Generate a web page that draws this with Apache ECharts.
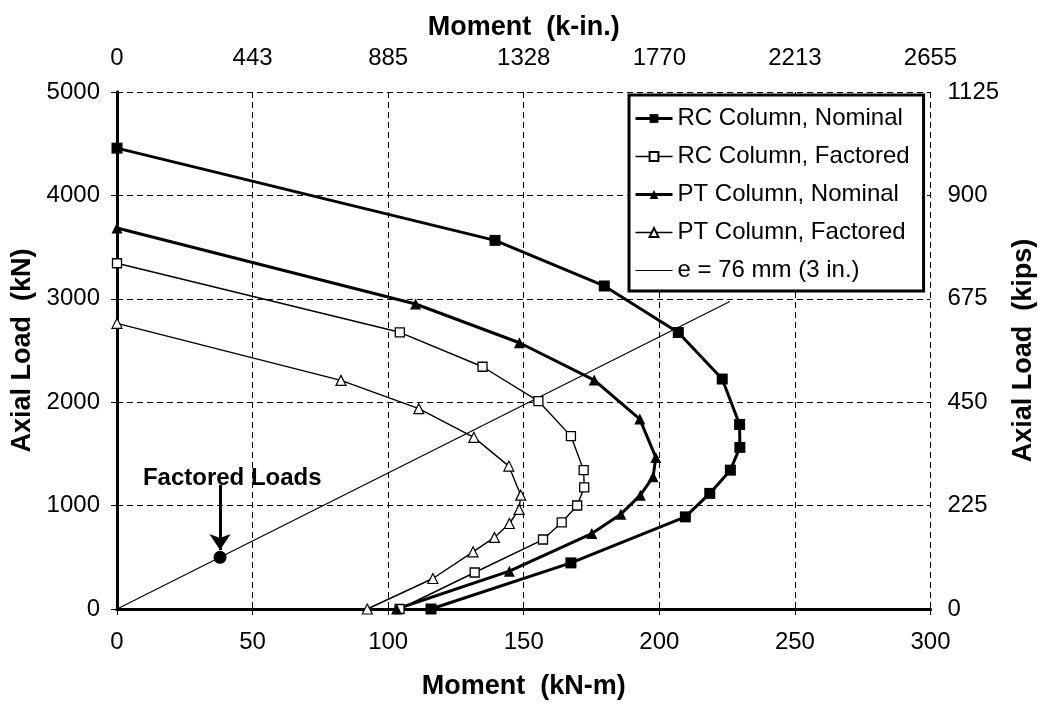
<!DOCTYPE html>
<html>
<head>
<meta charset="utf-8">
<script src="https://cdn.jsdelivr.net/npm/echarts@6/dist/echarts.min.js"></script>
<style>
html,body{margin:0;padding:0;background:#fff;}
#chart{width:1045px;height:705px;}
</style>
</head>
<body>
<div id="chart"></div>
<script>
// ---- Data (Moment kN-m, Axial Load kN) ----
const rcNomM = [0, 139.4, 179.7, 207.0, 223.2, 229.6, 229.7, 226.2, 218.6, 209.6, 167.4, 115.8];
const rcNomP = [4457, 3565, 3124, 2674, 2224, 1785, 1563, 1343, 1118, 891, 446, 0];

const rcFacM = [0, 104.3, 134.8, 155.4, 167.4, 172.1, 172.3, 169.7, 164.0, 157.1, 131.9, 104.2];
const rcFacP = [3344, 2676, 2343, 2011, 1672, 1343, 1176, 1001, 837, 672, 353, 0];

const ptNomM = [0, 110.1, 148.4, 176.0, 192.8, 198.7, 197.7, 193.0, 185.8, 175.1, 144.7, 103.1];
const ptNomP = [3685, 2950, 2575, 2214, 1837, 1466, 1278, 1101, 917, 730, 366, 0];

const ptFacM = [0, 82.6, 111.3, 131.6, 144.5, 148.9, 148.3, 144.7, 139.2, 131.3, 116.5, 92.3];
const ptFacP = [2763, 2211, 1937, 1660, 1382, 1101, 963, 827, 692, 553, 295, 0];

const eLineM = [0, 226];
const eLineP = [0, 2974];

const factoredM = [38];
const factoredP = [500];
const arrowFromP = 1200;
const arrowToP = 570;
const annotationText = 'Factored Loads';
const annotationAt = [42.5, 1265];

const seriesNames = ['RC Column, Nominal', 'RC Column, Factored', 'PT Column, Nominal', 'PT Column, Factored', 'e = 76 mm (3 in.)'];

// tick labels
const bottomTicks = ['0', '50', '100', '150', '200', '250', '300'];
const topTicks = ['0', '443', '885', '1328', '1770', '2213', '2655'];
const leftTicks = ['0', '1000', '2000', '3000', '4000', '5000'];
const rightTicks = ['0', '225', '450', '675', '900', '1125'];

function pairs(xs, ys) { return xs.map((x, i) => [x, ys[i]]); }

const FONT = "'Liberation Sans', Arial, Helvetica, sans-serif";
const black = '#000';

const chart = echarts.init(document.getElementById('chart'), null, { renderer: 'canvas' });

const gridLine = { show: true, lineStyle: { color: black, width: 1, type: [6, 4] } };
const axisLineStyle = { show: true, lineStyle: { color: black, width: 3 } };
const tickStyle = { show: true, length: 6, lineStyle: { color: black, width: 1 } };
const labelBase = { color: black, fontFamily: FONT, fontSize: 24 };
const nameBase = { color: black, fontFamily: FONT, fontSize: 27, fontWeight: 'bold' };

const option = {
  animation: false,
  backgroundColor: '#fff',
  textStyle: { fontFamily: FONT },
  grid: { left: 117, right: 112, top: 92, bottom: 96, containLabel: false },
  legend: {
    orient: 'vertical',
    left: 629,
    top: 95,
    data: [
      { name: seriesNames[0], lineStyle: { width: 3 } },
      { name: seriesNames[1], lineStyle: { width: 1.4 } },
      { name: seriesNames[2], lineStyle: { width: 3 } },
      { name: seriesNames[3], lineStyle: { width: 1.4 } },
      { name: seriesNames[4], lineStyle: { width: 1.2 }, itemStyle: { opacity: 0 } }
    ],
    itemWidth: 37,
    itemHeight: 11,
    itemGap: 11,
    padding: [10, 14, 7, 5],
    backgroundColor: '#fff',
    borderColor: black,
    borderWidth: 3,
    borderRadius: 0,
    textStyle: { color: black, fontFamily: FONT, fontSize: 24, lineHeight: 27 },
    selectedMode: false
  },
  xAxis: [
    {
      type: 'value', position: 'bottom', min: 0, max: 300, interval: 50,
      axisLine: axisLineStyle, axisTick: tickStyle, splitLine: gridLine,
      axisLabel: Object.assign({}, labelBase, { margin: 21, formatter: (v) => bottomTicks[Math.round(v / 50)] }),
      name: 'Moment  (kN-m)', nameLocation: 'middle', nameGap: 64, nameTextStyle: nameBase
    },
    {
      type: 'value', position: 'top', min: 0, max: 300, interval: 50,
      axisLine: axisLineStyle, axisTick: tickStyle, splitLine: { show: false },
      axisLabel: Object.assign({}, labelBase, { margin: 22, formatter: (v) => topTicks[Math.round(v / 50)] }),
      name: 'Moment  (k-in.)', nameLocation: 'middle', nameGap: 51, nameTextStyle: nameBase
    }
  ],
  yAxis: [
    {
      type: 'value', position: 'left', min: 0, max: 5000, interval: 1000,
      axisLine: axisLineStyle, axisTick: tickStyle, splitLine: gridLine,
      axisLabel: Object.assign({}, labelBase, { margin: 17, formatter: (v) => leftTicks[Math.round(v / 1000)] }),
      name: 'Axial Load  (kN)', nameLocation: 'middle', nameGap: 70, nameTextStyle: nameBase
    },
    {
      type: 'value', position: 'right', min: 0, max: 5000, interval: 1000,
      axisLine: axisLineStyle, axisTick: tickStyle, splitLine: { show: false },
      axisLabel: Object.assign({}, labelBase, { margin: 17, formatter: (v) => rightTicks[Math.round(v / 1000)] }),
      name: 'Axial Load  (kips)', nameLocation: 'middle', nameGap: 78, nameTextStyle: nameBase
    }
  ],
  series: [
    {
      name: seriesNames[0], type: 'line', data: pairs(rcNomM, rcNomP),
      symbol: 'rect', symbolSize: 11, showAllSymbol: true,
      lineStyle: { color: black, width: 3 },
      itemStyle: { color: black, borderColor: black, borderWidth: 0 },
      z: 5
    },
    {
      name: seriesNames[1], type: 'line', data: pairs(rcFacM, rcFacP),
      symbol: 'rect', symbolSize: 9, showAllSymbol: true,
      lineStyle: { color: black, width: 1.4 },
      itemStyle: { color: '#fff', borderColor: black, borderWidth: 1.3 },
      z: 5
    },
    {
      name: seriesNames[2], type: 'line', data: pairs(ptNomM, ptNomP),
      symbol: 'triangle', symbolSize: 11, showAllSymbol: true,
      lineStyle: { color: black, width: 3 },
      itemStyle: { color: black, borderColor: black, borderWidth: 0 },
      z: 5
    },
    {
      name: seriesNames[3], type: 'line', data: pairs(ptFacM, ptFacP),
      symbol: 'triangle', symbolSize: 10, showAllSymbol: true,
      lineStyle: { color: black, width: 1.4 },
      itemStyle: { color: '#fff', borderColor: black, borderWidth: 1.2 },
      z: 5
    },
    {
      name: seriesNames[4], type: 'line', data: pairs(eLineM, eLineP),
      symbol: 'none',
      lineStyle: { color: black, width: 1.2 },
      itemStyle: { color: black, opacity: 0 },
      z: 4
    },
    {
      name: 'Factored load point', type: 'scatter', data: pairs(factoredM, factoredP),
      symbol: 'circle', symbolSize: 13,
      itemStyle: { color: black, opacity: 1 },
      z: 6,
      markLine: {
        silent: true,
        symbol: ['none', 'arrow'],
        symbolSize: 16,
        lineStyle: { color: black, width: 3, type: 'solid', opacity: 1 },
        label: { show: false },
        emphasis: { disabled: true },
        data: [[{ coord: [factoredM[0], arrowFromP] }, { coord: [factoredM[0], arrowToP] }]]
      },
      markPoint: {
        silent: true,
        symbol: 'circle', symbolSize: 1,
        itemStyle: { color: 'rgba(0,0,0,0)' },
        label: { show: true, formatter: annotationText, color: black, fontFamily: FONT, fontSize: 24, fontWeight: 'bold', position: 'inside' },
        data: [{ coord: annotationAt }]
      }
    }
  ]
};

chart.setOption(option);
</script>
</body>
</html>
